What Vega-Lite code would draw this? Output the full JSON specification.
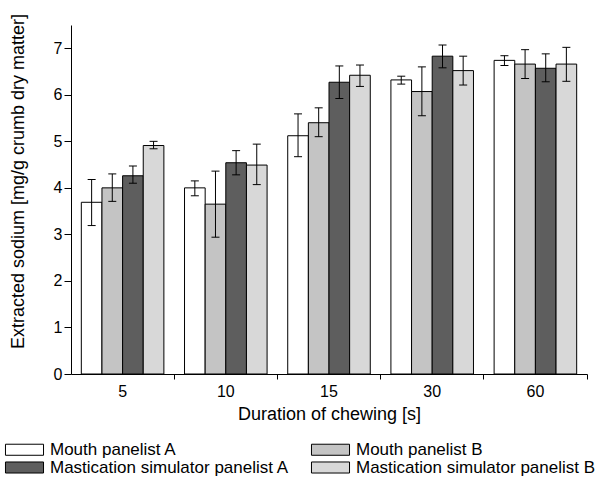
{
  "$schema": "https://vega.github.io/schema/vega-lite/v6.json",
  "width": 516,
  "height": 349,
  "autosize": {"type": "none"},
  "padding": {"left": 71, "top": 25, "right": 20, "bottom": 103},
  "config": {
    "font": "Liberation Sans",
    "view": {"stroke": null},
    "axis": {"domainColor": "black", "tickColor": "black", "labelColor": "black", "titleColor": "black", "titleFontWeight": "normal", "grid": false, "domainWidth": 1, "tickWidth": 1},
    "legend": {"padding": 0}
  },
  "data": {
    "values": [
      {"duration": "5", "series": "Mouth panelist A", "value": 3.69, "lo": 3.19, "hi": 4.18},
      {"duration": "5", "series": "Mouth panelist B", "value": 4.00, "lo": 3.71, "hi": 4.30},
      {"duration": "5", "series": "Mastication simulator panelist A", "value": 4.26, "lo": 4.10, "hi": 4.47},
      {"duration": "5", "series": "Mastication simulator panelist B", "value": 4.91, "lo": 4.84, "hi": 5.00},
      {"duration": "10", "series": "Mouth panelist A", "value": 4.00, "lo": 3.83, "hi": 4.15},
      {"duration": "10", "series": "Mouth panelist B", "value": 3.65, "lo": 2.94, "hi": 4.36},
      {"duration": "10", "series": "Mastication simulator panelist A", "value": 4.54, "lo": 4.28, "hi": 4.80},
      {"duration": "10", "series": "Mastication simulator panelist B", "value": 4.49, "lo": 4.07, "hi": 4.94},
      {"duration": "15", "series": "Mouth panelist A", "value": 5.12, "lo": 4.67, "hi": 5.59},
      {"duration": "15", "series": "Mouth panelist B", "value": 5.40, "lo": 5.10, "hi": 5.72},
      {"duration": "15", "series": "Mastication simulator panelist A", "value": 6.27, "lo": 5.92, "hi": 6.62},
      {"duration": "15", "series": "Mastication simulator panelist B", "value": 6.42, "lo": 6.18, "hi": 6.64},
      {"duration": "30", "series": "Mouth panelist A", "value": 6.32, "lo": 6.23, "hi": 6.40},
      {"duration": "30", "series": "Mouth panelist B", "value": 6.07, "lo": 5.55, "hi": 6.60},
      {"duration": "30", "series": "Mastication simulator panelist A", "value": 6.83, "lo": 6.58, "hi": 7.07},
      {"duration": "30", "series": "Mastication simulator panelist B", "value": 6.52, "lo": 6.21, "hi": 6.83},
      {"duration": "60", "series": "Mouth panelist A", "value": 6.74, "lo": 6.63, "hi": 6.84},
      {"duration": "60", "series": "Mouth panelist B", "value": 6.66, "lo": 6.35, "hi": 6.97},
      {"duration": "60", "series": "Mastication simulator panelist A", "value": 6.57, "lo": 6.28, "hi": 6.88},
      {"duration": "60", "series": "Mastication simulator panelist B", "value": 6.66, "lo": 6.29, "hi": 7.02}
    ]
  },
  "encoding": {
    "x": {
      "field": "duration", "type": "nominal", "sort": ["5", "10", "15", "30", "60"],
      "scale": {"paddingInner": 0, "paddingOuter": 0},
      "axis": {"title": "Duration of chewing [s]", "labelAngle": 0, "bandPosition": 1, "tickSize": 5, "labelFontSize": 16, "titleFontSize": 18, "labelPadding": 4, "titlePadding": 6}
    },
    "xOffset": {
      "field": "series", "type": "nominal",
      "sort": ["Mouth panelist A", "Mouth panelist B", "Mastication simulator panelist A", "Mastication simulator panelist B"],
      "scale": {"paddingInner": 0, "paddingOuter": 0.5}
    }
  },
  "layer": [
    {
      "mark": {"type": "bar", "stroke": "black", "strokeWidth": 1},
      "encoding": {
        "y": {
          "field": "value", "type": "quantitative", "scale": {"domain": [0, 7.5], "nice": false},
          "axis": {
            "title": "Extracted sodium [mg/g crumb dry matter]",
            "values": [0, 0.5, 1, 1.5, 2, 2.5, 3, 3.5, 4, 4.5, 5, 5.5, 6, 6.5, 7, 7.5],
            "labelExpr": "datum.value % 1 === 0 ? datum.label : ''",
            "tickSize": 7, "labelFontSize": 16, "titleFontSize": 18, "labelPadding": 2,
            "titleX": -53, "titleY": 156, "titleBaseline": "middle",
            "encoding": {"ticks": {"update": {"x2": {"signal": "datum.value % 1 === 0 ? -7 : -4"}}}}
          }
        },
        "fill": {
          "field": "series", "type": "nominal",
          "sort": ["Mouth panelist A", "Mastication simulator panelist A", "Mouth panelist B", "Mastication simulator panelist B"],
          "scale": {"range": ["#ffffff", "#5e5e5e", "#c4c4c4", "#d8d8d8"]},
          "legend": {
            "title": null, "orient": "none", "legendX": -55, "legendY": 416, "columns": 2,
            "symbolType": "M-3.17,-0.92H3.17V0.92H-3.17Z", "symbolSize": 144, "symbolStrokeColor": "black", "symbolStrokeWidth": 1, "symbolOpacity": 1,
            "labelFontSize": 17, "labelColor": "black", "labelOffset": 17, "labelLimit": 320,
            "rowPadding": 0, "columnPadding": 19
          }
        }
      }
    },
    {
      "mark": {"type": "rule", "color": "black", "strokeWidth": 1},
      "encoding": {
        "y": {"field": "lo", "type": "quantitative", "title": "Extracted sodium [mg/g crumb dry matter]"},
        "y2": {"field": "hi"}
      }
    },
    {
      "mark": {"type": "tick", "orient": "horizontal", "size": 8, "thickness": 1, "color": "black", "opacity": 1},
      "encoding": {"y": {"field": "lo", "type": "quantitative", "title": "Extracted sodium [mg/g crumb dry matter]"}}
    },
    {
      "mark": {"type": "tick", "orient": "horizontal", "size": 8, "thickness": 1, "color": "black", "opacity": 1},
      "encoding": {"y": {"field": "hi", "type": "quantitative", "title": "Extracted sodium [mg/g crumb dry matter]"}}
    }
  ]
}
